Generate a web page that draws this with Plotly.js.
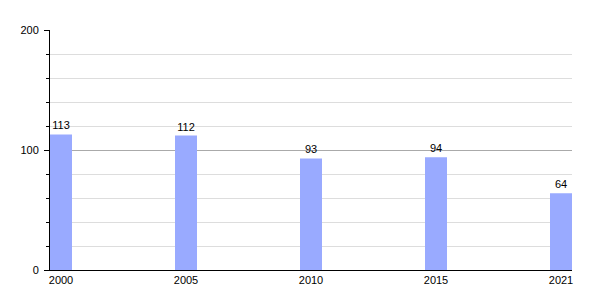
<!DOCTYPE html>
<html>
<head>
<meta charset="utf-8">
<script src="https://cdn.plot.ly/plotly-3.0.1.min.js"></script>
<style>html,body{margin:0;padding:0;background:#fff;}#chart{width:600px;height:300px;}</style>
</head>
<body>
<div id="chart"></div>
<script>
const years = ["2000", "2005", "2010", "2015", "2021"];
const values = [113, 112, 93, 94, 64];

const trace = {
  type: "bar",
  x: years,
  y: values,
  width: 0.176,
  marker: {color: "#99aaff"},
  text: values.map(String),
  textposition: "outside",
  textfont: {family: "Liberation Sans, Arial, sans-serif", size: 11, color: "#000"},
  cliponaxis: false,
  hoverinfo: "none"
};

const layout = {
  width: 600,
  height: 300,
  margin: {l: 50, r: 28, t: 30, b: 30},
  paper_bgcolor: "#fff",
  plot_bgcolor: "#fff",
  showlegend: false,
  font: {family: "Liberation Sans, Arial, sans-serif", size: 11, color: "#000"},
  xaxis: {
    type: "category",
    range: [-0.088, 4.088],
    showline: true,
    linecolor: "#000",
    linewidth: 1,
    ticks: "",
    showgrid: false,
    zeroline: false,
    tickfont: {size: 11, color: "#000"}
  },
  yaxis: {
    range: [0, 200],
    dtick: 100,
    tick0: 0,
    showline: true,
    linecolor: "#000",
    linewidth: 1,
    ticks: "outside",
    ticklen: 5,
    tickcolor: "#000",
    ticklabelstandoff: 3,
    showgrid: true,
    gridcolor: "#aaaaaa",
    zeroline: false,
    tickfont: {size: 11, color: "#000"},
    minor: {
      dtick: 20,
      ticks: "outside",
      ticklen: 3,
      tickcolor: "#000",
      showgrid: true,
      gridcolor: "#dddddd"
    }
  }
};

Plotly.newPlot("chart", [trace], layout, {staticPlot: true, displayModeBar: false});
</script>
</body>
</html>
